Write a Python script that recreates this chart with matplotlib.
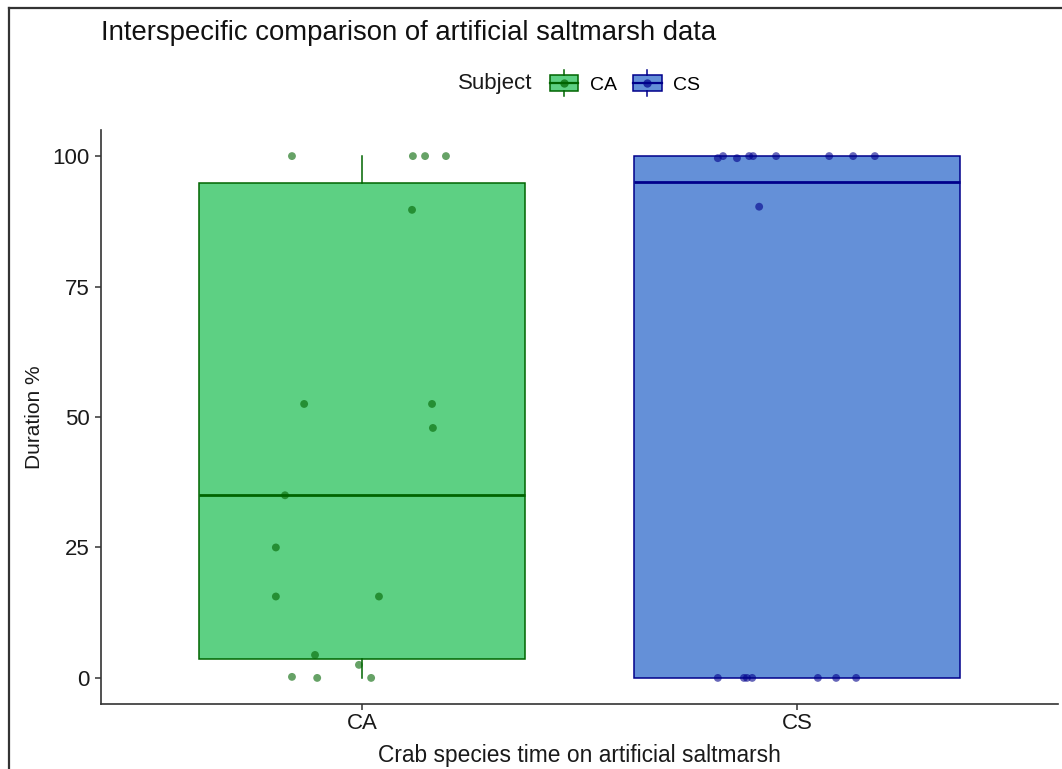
import numpy as np
import matplotlib
matplotlib.use("Agg")
import matplotlib.pyplot as plt
from matplotlib.lines import Line2D
from matplotlib.patches import Rectangle
from matplotlib.legend_handler import HandlerBase

plt.rcParams['font.family'] = ['Liberation Sans', 'DejaVu Sans']

# data
groups = ['CA', 'CS']
fills = ['#5dd083', '#6490d8']
edges = ['#006400', '#00008b']

# box stats
q1 = [3.6, 0.0]
med = [35.0, 95.0]
q3 = [94.8, 100.0]
whis_lo = [0.0, 0.0]
whis_hi = [100.0, 100.0]

# jittered points (x position, y value)
ca_x = [0.839, 1.117, 1.145, 1.193, 1.115, 0.867, 1.161, 1.163, 0.823,
        0.802, 0.802, 1.039, 0.892, 0.993, 0.839, 0.897, 1.021]
ca_y = [100, 100, 100, 100, 89.7, 52.5, 52.5, 47.9, 35.0,
        25.0, 15.6, 15.6, 4.4, 2.5, 0.2, 0, 0]
cs_x = [1.818, 1.830, 1.862, 1.890, 1.899, 1.952, 2.074, 2.129, 2.179,
        1.913, 1.818, 1.878, 1.885, 1.897, 2.048, 2.090, 2.136]
cs_y = [99.6, 100, 99.6, 100, 100, 100, 100, 100, 100,
        90.3, 0, 0, 0, 0, 0, 0, 0]

fig = plt.figure(figsize=(10.62, 7.69), dpi=100)
ax = fig.add_axes([101/1062, 1-704/769, 957/1062, (704-130)/769])

stats = []
for i in range(2):
    stats.append(dict(label=groups[i], q1=q1[i], med=med[i], q3=q3[i],
                      whislo=whis_lo[i], whishi=whis_hi[i], fliers=[]))

for i in range(2):
    ax.bxp([stats[i]], positions=[i + 1], widths=0.75, patch_artist=True,
           showcaps=False, showfliers=False,
           boxprops=dict(facecolor=fills[i], edgecolor=edges[i], linewidth=1.1),
           whiskerprops=dict(color=edges[i], linewidth=1.1),
           medianprops=dict(color=edges[i], linewidth=2.0),
           manage_ticks=False, zorder=2)

ax.scatter(ca_x, ca_y, s=32, color='#006400', alpha=0.6, edgecolors='none', zorder=3)
ax.scatter(cs_x, cs_y, s=32, color='#00008b', alpha=0.6, edgecolors='none', zorder=3)

ax.set_xlim(0.4, 2.6)
ax.set_ylim(-5, 105)
ax.set_xticks([1, 2])
ax.set_xticklabels(groups)
ax.set_yticks([0, 25, 50, 75, 100])
for s in ['top', 'right']:
    ax.spines[s].set_visible(False)
for s in ['left', 'bottom']:
    ax.spines[s].set_color('#333333')
    ax.spines[s].set_linewidth(1.2)
ax.tick_params(colors='#333333', labelsize=16, length=4.5, width=1.1, labelcolor='#1a1a1a')
ax.tick_params(axis='x', pad=2)
ax.set_xlabel('Crab species time on artificial saltmarsh', fontsize=16.4, color='#1a1a1a', labelpad=7)
ax.set_ylabel('Duration %', fontsize=15, color='#1a1a1a', labelpad=6)

fig.text(101/1062, 1-33/769, 'Interspecific comparison of artificial saltmarsh data',
         fontsize=19.8, va='center', ha='left', color='#111111')


class BoxKey(HandlerBase):
    def __init__(self, fill, edge):
        super().__init__()
        self.fill = fill
        self.edge = edge

    def create_artists(self, legend, orig_handle, xdescent, ydescent, width, height, fontsize, trans):
        x0, y0 = -xdescent, -ydescent
        cx, cy = x0 + width / 2, y0 + height / 2
        rect = Rectangle((x0, y0 + height * 0.1), width, height * 0.8,
                         facecolor=self.fill, edgecolor=self.edge, linewidth=1.1, transform=trans)
        w1 = Line2D([cx, cx], [y0 + height * 0.9, y0 + height * 1.12], color=self.edge, lw=1.1, transform=trans)
        w2 = Line2D([cx, cx], [y0 + height * 0.1, y0 - height * 0.12], color=self.edge, lw=1.1, transform=trans)
        m = Line2D([x0, x0 + width], [cy, cy], color=self.edge, lw=1.6, transform=trans)
        p = Line2D([cx], [cy], marker='o', markersize=6, color=self.edge, alpha=0.7,
                   markeredgewidth=0, transform=trans)
        return [rect, w1, w2, m, p]


h_ca = Rectangle((0, 0), 1, 1)
h_cs = Rectangle((0, 0), 1, 1)
fig.text(458/1062, 1-84/769, 'Subject', fontsize=16, va='center', ha='left', color='#1a1a1a')
fig.legend([h_ca, h_cs], groups, loc='center left', bbox_to_anchor=(550/1062, 1-83/769),
           ncol=2, frameon=False, fontsize=14, borderpad=0, borderaxespad=0,
           handlelength=1.45, handleheight=1.3, handletextpad=0.6, columnspacing=0.85,
           handler_map={h_ca: BoxKey(fills[0], edges[0]), h_cs: BoxKey(fills[1], edges[1])})

# screenshot frame
fig.add_artist(Line2D([9/1062, 1], [1-8/769, 1-8/769], color='#333333', lw=1.6, transform=fig.transFigure))
fig.add_artist(Line2D([9/1062, 9/1062], [0, 1-8/769], color='#333333', lw=1.6, transform=fig.transFigure))

fig.savefig('out.png', dpi=100)
